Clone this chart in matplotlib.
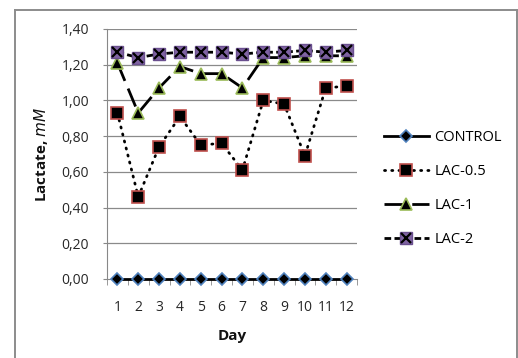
import matplotlib
matplotlib.use("Agg")
import matplotlib.pyplot as plt
from matplotlib.ticker import FuncFormatter, FixedLocator

days = [1, 2, 3, 4, 5, 6, 7, 8, 9, 10, 11, 12]
control = [0, 0, 0, 0, 0, 0, 0, 0, 0, 0, 0, 0]
lac_05 = [0.93, 0.46, 0.74, 0.91, 0.75, 0.76, 0.61, 1.00, 0.98, 0.69, 1.07, 1.08]
lac_1 = [1.21, 0.93, 1.07, 1.19, 1.15, 1.15, 1.07, 1.24, 1.24, 1.25, 1.25, 1.25]
lac_2 = [1.27, 1.24, 1.26, 1.27, 1.27, 1.27, 1.26, 1.27, 1.27, 1.28, 1.27, 1.28]
y_ticks = [0.0, 0.2, 0.4, 0.6, 0.8, 1.0, 1.2, 1.4]

plt.rcParams['font.family'] = ['Open Sans', 'DejaVu Sans']

W, H = 518, 358
fig = plt.figure(figsize=(W / 100, H / 100), dpi=100)

# chart area border: an empty background axes whose left/top/right spines form the frame
bx0, by0, bx1 = 14.5 / W, 1 - 9.5 / H, 516.5 / W
frame = fig.add_axes([bx0, 0, bx1 - bx0, by0], zorder=-1)
frame.set_xticks([])
frame.set_yticks([])
frame.patch.set_visible(False)
frame.spines['bottom'].set_visible(False)
for s in ['left', 'top', 'right']:
    frame.spines[s].set_color('#8c8c8c')
    frame.spines[s].set_linewidth(1.4)

ax = fig.add_axes([107 / W, (H - 279) / H, 250 / W, 250 / H])

ax.set_xlim(0.5, 12.5)
ax.set_ylim(0, 1.4)

for spine in ['top', 'right']:
    ax.spines[spine].set_visible(False)
ax.spines['left'].set_color('#888888')
ax.spines['bottom'].set_color('#888888')

ax.yaxis.set_major_locator(FixedLocator(y_ticks))
ax.yaxis.set_major_formatter(FuncFormatter(lambda v, p: f"{v:.2f}".replace('.', ',')))
ax.set_xticks(days)
ax.set_xticks([d + 0.5 for d in [0] + days], minor=True)
ax.tick_params(axis='x', which='major', length=0, pad=15, labelsize=10, labelcolor='#262626')
ax.tick_params(axis='x', which='minor', length=4, color='#888888', direction='out')
ax.tick_params(axis='y', length=3, color='#888888', pad=10, labelsize=10, labelcolor='#262626')

for yv in y_ticks[1:]:
    ax.axhline(yv, color='#8a8a8a', linewidth=0.9, zorder=0)

ms = 8.5
lw = 2.0
l_ctrl, = ax.plot(days, control, color='black', linewidth=lw, marker='D', markersize=6.5,
                  markerfacecolor='black', markeredgecolor='#4F81BD', markeredgewidth=1.2,
                  label='CONTROL', zorder=3, clip_on=False)
l_05, = ax.plot(days, lac_05, color='black', linewidth=lw, linestyle=(0, (0.4, 2.2)),
                dash_capstyle='round', marker='s', markersize=ms,
                markerfacecolor='black', markeredgecolor='#C0504D', markeredgewidth=1.2,
                label='LAC-0.5', zorder=3)
l_1, = ax.plot(days, lac_1, color='black', linewidth=lw, linestyle=(0, (7, 3)),
               marker='^', markersize=ms, markerfacecolor='black',
               markeredgecolor='#9BBB59', markeredgewidth=1.2, label='LAC-1', zorder=3)
l_2, = ax.plot(days, lac_2, color='black', linewidth=lw, linestyle=(0, (2.4, 1.2)),
               marker='s', markersize=ms, markerfacecolor='#8064A2',
               markeredgecolor='#6a4f8f', markeredgewidth=1.0, label='LAC-2', zorder=4)
l_2x, = ax.plot(days, lac_2, linestyle='none', marker='x', markersize=ms - 1,
                markeredgecolor='black', markeredgewidth=1.6, zorder=5)

ax.set_xlabel('Day', fontsize=11, fontweight='bold', labelpad=10, color='#111111')
ax.set_ylabel(r'Lactate, $\mathbf{\mathit{mM}}$', fontsize=11, fontweight='bold',
              labelpad=8, color='#111111')

fig.legend([l_ctrl, l_05, l_1, (l_2, l_2x)], ['CONTROL', 'LAC-0.5', 'LAC-1', 'LAC-2'],
           loc='upper left', bbox_to_anchor=(378 / W, 1 - 124 / H),
           frameon=False, fontsize=10.5, handlelength=3.1, handletextpad=0.35,
           labelspacing=1.3, borderaxespad=0)

fig.savefig('out.png', dpi=100)
